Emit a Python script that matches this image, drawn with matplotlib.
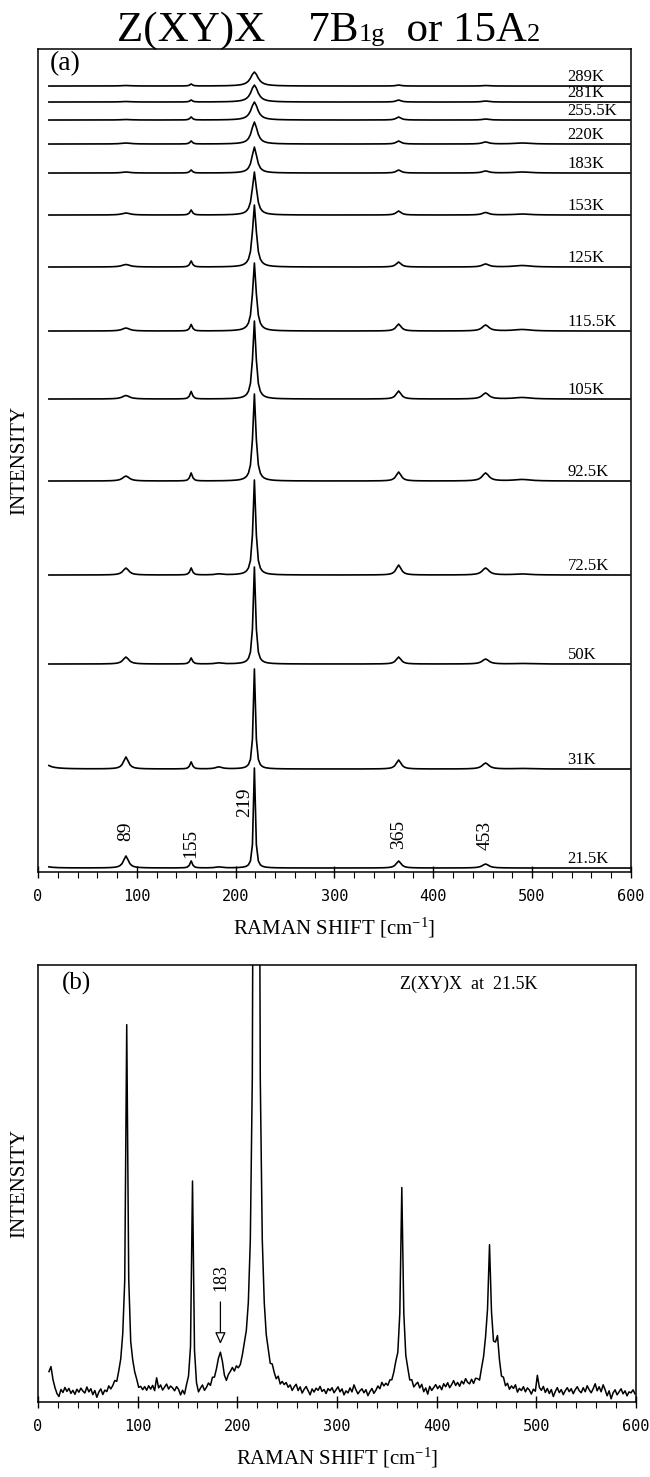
import numpy as np
import matplotlib.pyplot as plt
from matplotlib.ticker import MultipleLocator

plt.rcParams['font.family'] = ['Liberation Serif', 'DejaVu Serif']
plt.rcParams['mathtext.fontset'] = 'custom'
plt.rcParams['mathtext.rm'] = 'Liberation Serif'
plt.rcParams['mathtext.it'] = 'Liberation Serif:italic'

# ---- panel (a): temperature series (heights in pixel-like units) ----
temps = ['289K', '281K', '255.5K', '220K', '183K', '153K', '125K',
         '115.5K', '105K', '92.5K', '72.5K', '50K', '31K', '21.5K']
offsets = [786, 770, 752, 728, 699, 657, 605, 541, 473, 391, 297, 208, 103, 4]

h0   = [0, 0, 0, 0, 0, 0, 0, 0, 0, 0, 0, 0, 30, 10]
h89  = [0.5, 0.5, 0.5, 1, 1, 2, 2.5, 3, 3.5, 5, 7, 7, 12, 12]
h155 = [2, 2, 3, 3, 3, 5, 6, 6.5, 7.5, 8, 7, 6, 7, 7]
h183 = [0, 0, 0, 0, 0, 0, 0, 0, 0, 0, 1, 1, 2, 1]
h219 = [14, 17, 18, 22, 26, 43, 62, 68, 78, 87, 95, 97, 100, 100]
h365 = [1, 2, 3, 3, 3, 4, 5, 7, 8, 9, 10, 7, 9, 7]
h453 = [0.5, 1, 1, 2, 2, 2.5, 3, 6, 6, 8, 7, 5, 6, 4]
h490 = [0, 0, 0, 1, 1, 1, 1.5, 1.5, 1.5, 1.5, 1, 0.5, 0.5, 0]
w89  = [6, 6, 6, 6, 5, 5, 5, 4.5, 4.5, 4, 3.5, 3.5, 3, 3]
w219 = [4.5, 4.2, 4.0, 3.5, 3.0, 2.6, 2.3, 2.2, 2.0, 1.9, 1.7, 1.5, 1.3, 1.1]
centers_other = [0, 155, 183, 365, 453, 490]
w_other = [4, 1.5, 4, 3, 4, 10]

peak_labels = ['89', '155', '219', '365', '453']
peak_label_x = [89, 155, 209, 365, 453]
peak_label_y = [41, 29, 70, 38, 37]

# ---- panel (b): Z(XY)X at 21.5K ----
centers_b = [89, 89, 155, 155, 183, 219, 365, 365, 453, 453, 461]
heights_b = [305, 60, 190, 15, 25, 2500, 160, 40, 100, 35, 35]
widths_b  = [1.0, 4, 0.9, 2, 3, 1.5, 1.2, 4, 1.5, 5, 2]
baseline_b = [
    30, 35, 22, 14, 8, 5, 12, 9, 14, 10, 13, 8, 11, 7, 12, 9, 13, 10, 8, 14,
    9, 12, 6, 10, 3, 8, 11, 5, 9, 7, 12, 8, 10, 13, 9, 14, 16, 20, 12, 12,
    14, 12, 15, 13, 11, 6, 9, 7, 11, 8, 13, 10, 14, 9, 22, 12, 15, 10, 13, 16,
    11, 14, 12, 9, 13, 10, 4, 8, 3, 10, 12, 14, 14, 10, 5, 2, 8, 12, 7, 10,
    14, 11, 18, 16, 20, 22, 20, 18, 12, 10, 17, 20, 23, 18, 21, 16, 15, 18, 20, 16,
    14, 14, 15, 15, 15, 15, 15, 15, 14, 12, 14, 10, 16, 12, 9, 14, 8, 12, 10, 13,
    9, 12, 7, 11, 14, 8, 12, 6, 10, 13, 9, 5, 11, 8, 12, 10, 14, 9, 11, 7,
    12, 10, 13, 8, 11, 14, 9, 12, 6, 10, 8, 13, 9, 16, 11, 7, 10, 12, 8, 11,
    5, 9, 12, 7, 10, 14, 11, 17, 13, 15, 12, 16, 14, 18, 22, 16, 14, 14, 14, 13,
    15, 10, 14, 9, 13, 16, 11, 15, 8, 12, 6, 14, 10, 13, 16, 12, 15, 11, 17, 14,
    18, 13, 16, 20, 15, 18, 14, 19, 16, 21, 17, 15, 19, 14, 18, 16, 12, 20, 24, 30,
    25, 20, 20, 20, 22, 18, 15, 12, 16, 10, 14, 9, 13, 11, 15, 8, 12, 10, 14, 9,
    13, 11, 7, 12, 10, 26, 14, 11, 15, 9, 13, 8, 12, 5, 10, 14, 9, 12, 7, 11,
    14, 10, 13, 8, 12, 15, 11, 9, 14, 10, 16, 12, 9, 13, 18, 11, 15, 10, 17, 12,
    6, 11, 3, 9, 12, 7, 10, 13, 8, 11, 6, 10, 9, 12, 8]

shift = np.arange(11, 600, 2)


def lorentz(x, x0, h, w):
    return h / (1 + ((x - x0) / w) ** 2)


def style_axis(ax):
    ax.set_xlim(0, 600)
    ax.set_yticks([])
    ax.xaxis.set_major_locator(MultipleLocator(100))
    ax.xaxis.set_minor_locator(MultipleLocator(20))
    ax.tick_params(axis='x', which='major', direction='inout', length=8, width=1, pad=8)
    ax.tick_params(axis='x', which='minor', direction='out', length=4, width=0.8)
    for sp in ax.spines.values():
        sp.set_linewidth(1.1)
    for lab in ax.get_xticklabels():
        lab.set_fontfamily('DejaVu Sans Mono')
        lab.set_fontsize(11)
    ax.set_xlabel('RAMAN SHIFT [cm$^{-1}$]', fontsize=15, labelpad=9)
    ax.set_ylabel('INTENSITY', fontsize=15, labelpad=6)


fig = plt.figure(figsize=(6.5, 14.77), dpi=100)

ax_a = fig.add_axes([0.0585, 0.4096, 0.912, 0.5572])
ax_a.set_ylim(0, 823)
for i in range(len(temps)):
    hs = [h0[i], h155[i], h183[i], h365[i], h453[i], h490[i]]
    y = offsets[i] + lorentz(shift, 89, h89[i], w89[i]) + lorentz(shift, 219, h219[i], w219[i])
    for c, h, w in zip(centers_other, hs, w_other):
        y = y + lorentz(shift, c, h, w)
    ax_a.plot(shift, y, color='black', lw=1.2)
    ax_a.text(536, offsets[i] + 1.5, temps[i], fontsize=12, ha='left', va='bottom')

for lab, px, py in zip(peak_labels, peak_label_x, peak_label_y):
    ax_a.text(px, py, lab, rotation=90, ha='center', va='center', fontsize=14)
ax_a.text(0.02, 0.997, '(a)', transform=ax_a.transAxes, ha='left', va='top', fontsize=20)
style_axis(ax_a)

ax_b = fig.add_axes([0.0585, 0.0508, 0.920, 0.2958])
ax_b.set_ylim(0, 437)
y_b = np.array(baseline_b, dtype=float)
for c, h, w in zip(centers_b, heights_b, widths_b):
    y_b = y_b + lorentz(shift, c, h, w)
ax_b.plot(shift, y_b, color='black', lw=1.1)
ax_b.annotate('', xy=(183, 58), xytext=(183, 100),
              arrowprops=dict(arrowstyle='-|>,head_length=0.7,head_width=0.32',
                              fc='white', ec='black', lw=0.9, mutation_scale=10,
                              shrinkA=0, shrinkB=0))
ax_b.text(183, 124, '183', rotation=90, ha='center', va='center', fontsize=13)
ax_b.text(0.04, 0.985, '(b)', transform=ax_b.transAxes, ha='left', va='top', fontsize=18)
ax_b.text(0.605, 0.975, 'Z(XY)X  at  21.5K', transform=ax_b.transAxes,
          ha='left', va='top', fontsize=13)
style_axis(ax_b)

# title: small "subscripts" sit on the baseline, as in the scan
title_parts = [('Z(XY)X    7B', 31), ('1g', 19), ('  or 15A', 31), ('2', 19)]
renderer = fig.canvas.get_renderer()
pieces = [fig.text(0, 0.9725, s, fontsize=fs, va='baseline', ha='left') for s, fs in title_parts]
widths = [p.get_window_extent(renderer).width / fig.bbox.width for p in pieces]
x = 0.505 - sum(widths) / 2
for p, w in zip(pieces, widths):
    p.set_x(x)
    x += w

fig.savefig('out.png', dpi=100)
